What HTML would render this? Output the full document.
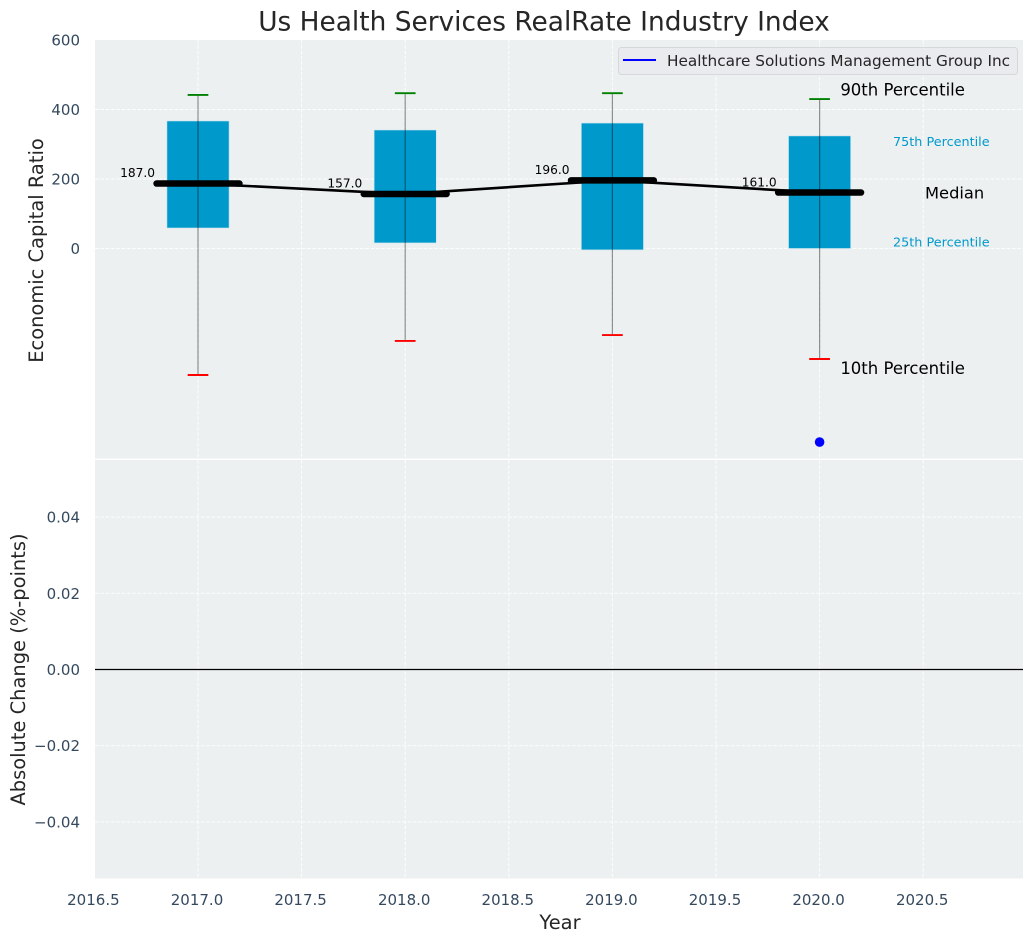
<!DOCTYPE html>
<html lang="en">
<head>
<meta charset="utf-8">
<title>Us Health Services RealRate Industry Index</title>
<style>
html,body{margin:0;padding:0;background:#fff;width:1034px;height:942px;overflow:hidden}
svg{display:block}
text{font-family:"DejaVu Sans","Liberation Sans",sans-serif}
</style>
</head>
<body>
<svg id="chart" xmlns="http://www.w3.org/2000/svg" width="1034" height="942" viewBox="0 0 1034 942">
  <rect x="95" y="40" width="928" height="418.5" fill="#ecf0f1"/>
  <rect x="95" y="460" width="928" height="418.5" fill="#ecf0f1"/>
  <g id="grid"></g>
  <g id="marks"></g>
  <g id="ticks"></g>
  <text x="544" y="30.5" text-anchor="middle" font-size="26.4" fill="#262626">Us Health Services RealRate Industry Index</text>
  <text transform="translate(43,250.5) rotate(-90)" text-anchor="middle" font-size="19.45" fill="#262626">Economic Capital Ratio</text>
  <text transform="translate(25,669.5) rotate(-90)" text-anchor="middle" font-size="19.45" fill="#262626">Absolute Change (%-points)</text>
  <text x="560" y="929" text-anchor="middle" font-size="19.45" fill="#262626">Year</text>
  <g>
    <rect x="618.5" y="47.5" width="399" height="27" rx="3" fill="#eaebef" stroke="#d6d8da" stroke-width="1"/>
    <line x1="623" x2="656" y1="60" y2="60" stroke="#0000ff" stroke-width="2"/>
    <text x="667" y="66" font-size="15.3" fill="#262626">Healthcare Solutions Management Group Inc</text>
  </g>
</svg>
<script>
var years = [2017, 2018, 2019, 2020];
var p90 = [442, 447, 447, 430];
var p75 = [367, 341, 361, 324];
var medians = [187, 157, 196, 161];
var p25 = [59, 16, -4, 0];
var p10 = [-364, -266, -249, -318];
var companyYears = [2020];
var companyValues = [-557];
var xTicks = [2016.5, 2017, 2017.5, 2018, 2018.5, 2019, 2019.5, 2020, 2020.5];
var xTickLabels = ['2016.5', '2017.0', '2017.5', '2018.0', '2018.5', '2019.0', '2019.5', '2020.0', '2020.5'];
var topYTicks = [0, 200, 400, 600];
var topYTickLabels = ['0', '200', '400', '600'];
var bottomYTicks = [-0.04, -0.02, 0, 0.02, 0.04];
var bottomYTickLabels = ['\u22120.04', '\u22120.02', '0.00', '0.02', '0.04'];

var NS = 'http://www.w3.org/2000/svg';
function sx(v) { return 198 + (v - 2017) * 207.2; }
function syTop(v) { return 248.5 - v * 0.3475; }
function syBottom(v) { return 669.5 - v * 3810; }
function make(parent, tag, attrs, txt) {
  var el = document.createElementNS(NS, tag);
  for (var k in attrs) el.setAttribute(k, attrs[k]);
  if (txt !== undefined) el.textContent = txt;
  parent.appendChild(el);
  return el;
}
var grid = document.getElementById('grid');
var marks = document.getElementById('marks');
var ticks = document.getElementById('ticks');
var gridStyle = { stroke: '#ffffff', 'stroke-width': 1, 'stroke-opacity': 0.85, 'stroke-dasharray': '3.7 1.6', fill: 'none' };
function gridLine(x1, y1, x2, y2) {
  var el = make(grid, 'line', Object.assign({ x1: x1, y1: y1, x2: x2, y2: y2 }, gridStyle));
  
  
}
xTicks.forEach(function (v, i) {
  var x = sx(v);
  if (x > 96) {
    gridLine(x, 40, x, 458.5);
    gridLine(x, 460, x, 878.5);
  }
  var t = make(ticks, 'text', { x: x - 1, y: 905, 'text-anchor': 'middle', 'font-size': 15, fill: '#34495e' }, xTickLabels[i]);
  
  
});
topYTicks.forEach(function (v, i) {
  var y = syTop(v);
  if (v < 600) gridLine(95, y, 1023, y);
  var t = make(ticks, 'text', { x: 80, y: y + 5.5, 'text-anchor': 'end', 'font-size': 15, fill: '#34495e' }, topYTickLabels[i]);
  
  
});
bottomYTicks.forEach(function (v, i) {
  var y = syBottom(v);
  gridLine(95, y, 1023, y);
  var t = make(ticks, 'text', { x: 80, y: y + 5.5, 'text-anchor': 'end', 'font-size': 15, fill: '#34495e' }, bottomYTickLabels[i]);
  
  
});

var zero = make(marks, 'line', { x1: 95, x2: 1023, y1: syBottom(0), y2: syBottom(0), stroke: '#000', 'stroke-width': 1.2 });



var halfBox = 0.15, halfMedian = 0.2, halfCap = 0.05;
years.forEach(function (yr, i) {
  var x = sx(yr);
  var box = make(marks, 'rect', {
    x: sx(yr - halfBox), y: syTop(p75[i]), width: sx(yr + halfBox) - sx(yr - halfBox),
    height: syTop(p25[i]) - syTop(p75[i]), fill: '#0099cc', stroke: '#cfe6ee', 'stroke-width': 0.6
  });
  
  
});
var medianPath = make(marks, 'polyline', {
  points: years.map(function (yr, i) { return sx(yr) + ',' + syTop(medians[i]); }).join(' '),
  fill: 'none', stroke: '#000', 'stroke-width': 2.6
});


years.forEach(function (yr, i) {
  var x = sx(yr);
  var med = make(marks, 'line', {
    x1: sx(yr - halfMedian), x2: sx(yr + halfMedian), y1: syTop(medians[i]), y2: syTop(medians[i]),
    stroke: '#000', 'stroke-width': 6.5, 'stroke-linecap': 'round'
  });
  
  
  var whisk = make(marks, 'line', {
    x1: x, x2: x, y1: syTop(p90[i]), y2: syTop(p10[i]), stroke: '#000', 'stroke-opacity': 0.42, 'stroke-width': 1.2
  });
  
  
  var hi = make(marks, 'line', {
    x1: sx(yr - halfCap), x2: sx(yr + halfCap), y1: syTop(p90[i]), y2: syTop(p90[i]), stroke: '#008000', 'stroke-width': 1.9
  });
  
  
  var lo = make(marks, 'line', {
    x1: sx(yr - halfCap), x2: sx(yr + halfCap), y1: syTop(p10[i]), y2: syTop(p10[i]), stroke: '#ff0000', 'stroke-width': 1.9
  });
  
  
  var lab = make(marks, 'text', {
    x: sx(yr - 0.2) - 1.5, y: syTop(medians[i]) - 6.3, 'text-anchor': 'end', 'font-size': 12.2, fill: '#000'
  }, medians[i].toFixed(1));
  
  
});
companyYears.forEach(function (yr, i) {
  var dot = make(marks, 'circle', { cx: sx(yr), cy: syTop(companyValues[i]), r: 4.8, fill: '#0000ff' });
  
  
});

var last = years.length - 1;
var a90 = make(marks, 'text', { x: sx(years[last] + 0.1), y: syTop(p90[last]) - 3.5, 'font-size': 16.5, fill: '#000' }, '90th Percentile');


var a10 = make(marks, 'text', { x: sx(years[last] + 0.1), y: syTop(p10[last]) + 15, 'font-size': 16.5, fill: '#000' }, '10th Percentile');


var aMed = make(marks, 'text', { x: 925, y: syTop(medians[last]) + 6, 'font-size': 16.3, fill: '#000' }, 'Median');


var a75 = make(marks, 'text', { x: 893, y: syTop(p75[last]) + 10, 'font-size': 12.8, fill: '#0099cc' }, '75th Percentile');


var a25 = make(marks, 'text', { x: 893, y: syTop(p25[last]) - 2, 'font-size': 12.8, fill: '#0099cc' }, '25th Percentile');


</script>
</body>
</html>
